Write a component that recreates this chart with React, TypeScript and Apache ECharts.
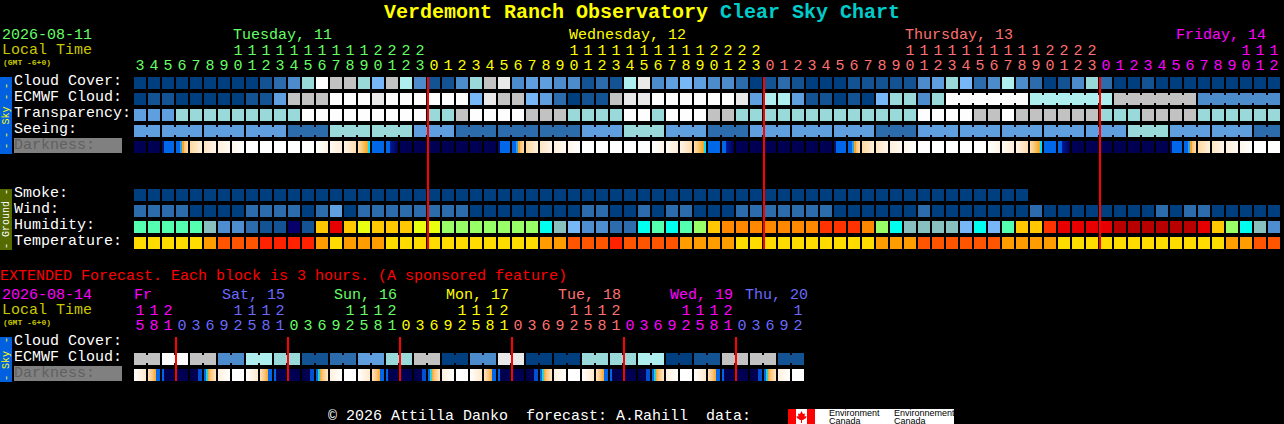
import React, { useEffect, useRef } from "react";
import * as echarts from "echarts";

const MONO = "'Liberation Mono', monospace";

// ---- categories ----
const hoursMain = [3,4,5,6,7,8,9,10,11,12,13,14,15,16,17,18,19,20,21,22,23,
  0,1,2,3,4,5,6,7,8,9,10,11,12,13,14,15,16,17,18,19,20,21,22,23,
  0,1,2,3,4,5,6,7,8,9,10,11,12,13,14,15,16,17,18,19,20,21,22,23,
  0,1,2,3,4,5,6,7,8,9,10,11,12];
const hoursExt = [15,18,21,
  0,3,6,9,12,15,18,21, 0,3,6,9,12,15,18,21, 0,3,6,9,12,15,18,21,
  0,3,6,9,12,15,18,21, 0,3,6,9,12,15,18,21, 0,3,6,9,12];
const rowsMain = ["Cloud Cover:","ECMWF Cloud:","Transparency:","Seeing:","Darkness:","","","Smoke:","Wind:","Humidity:","Temperature:"];
const rowsExt = ["Cloud Cover:","ECMWF Cloud:","Darkness:"];
const midnightsMain = [21,45,69];
const midnightsExt = [3,11,19,27,35,43];

// ---- series values: level codes ----
const cloudCover = [0,0,0,0,0,0,0,0,0,1,2,3,6,10,8,8,6,5,8,7,3,
  1,1,3,6,8,9,3,4,4,3,3,1,2,1,7,9,3,4,5,4,3,3,2,0,
  1,2,1,0,0,0,1,1,1,1,1,3,4,6,5,2,3,7,3,2,0,1,3,6,
  2,0,0,1,0,0,0,0,0,0,0,0,0];
const ecmwfHourly = [0,1,1,0,0,0,0,0,1,1,4,8,8,8,10,10,10,9,10,10,10,
  10,10,10,5,9,8,8,5,4,2,0,1,1,8,9,9,10,10,10,10,10,10,9,4,
  7,7,4,1,1,0,1,0,5,6,6,3,6];
const ecmwfBlockValues = [10,7,8,3];
const ecmwfBlockSpans = [6,6,6,6];
const transparency = [4,4,4,6,6,6,6,6,6,6,6,6,10,10,10,10,10,10,10,10,10,
  6,6,8,10,10,10,10,8,8,8,6,6,6,6,10,10,6,10,10,10,8,8,6,6,
  6,6,6,6,6,6,6,6,6,6,6,10,10,10,10,8,8,10,8,8,8,8,8,8,
  6,6,6,8,8,8,8,6,6,6,6,6,6];
const seeingValues = [4,4,4,4,2,6,6,4,2,2,2,4,6,4,2,4,4,4,2,4,4,4,4,4,6,4,4,2];
const seeingSpans = [2,3,3,3,3,3,3,3,3,3,3,3,3,3,3,3,3,3,3,3,3,3,3,3,3,3,3,2];
const darkness = [0,0,1,2,3,4,5,6,7,7,7,7,7,8,9,10,11,12,13,0,0,
  0,0,0,0,0,1,2,3,4,5,6,7,7,7,7,7,8,9,10,11,12,13,0,0,
  0,0,0,0,0,1,2,3,4,5,6,7,7,7,7,7,8,9,10,11,12,13,0,0,
  0,0,0,0,0,1,2,3,4,5,6,7,7];
const smoke = [0,0,0,0,0,0,0,0,0,0,0,0,0,0,0,0,0,0,0,0,0,
  0,0,0,0,0,0,0,0,0,0,0,0,0,0,0,0,0,0,0,0,0,0,0,0,
  0,0,0,0,0,0,0,0,0,0,0,0,0,0,0,0,0,0,0];
const wind = [2,2,2,2,0,0,0,0,2,2,2,2,0,2,4,0,2,2,2,2,2,
  2,2,2,0,0,0,0,0,0,0,0,2,2,0,0,2,0,2,2,0,0,0,2,2,
  2,2,2,2,2,0,0,0,0,0,0,2,0,0,0,0,0,0,0,2,0,0,0,0,
  0,0,0,0,2,0,2,2,0,0,0,0,0];
const humidity = [7,7,7,7,7,5,3,3,2,1,1,0,1,10,13,10,9,10,10,10,9,
  9,8,8,8,8,8,8,8,6,5,4,3,3,2,2,6,7,6,7,8,10,11,11,11,
  11,11,11,11,12,12,12,11,8,6,5,5,5,5,4,6,4,7,10,10,12,13,13,13,
  13,14,14,14,14,14,14,13,10,8,6,5,3];
const temperature = [0,0,0,0,0,1,2,2,2,3,3,3,3,1,0,1,1,1,0,0,0,
  0,0,0,0,0,0,0,0,1,1,2,2,2,3,2,2,2,2,1,1,1,1,0,0,
  0,0,0,0,0,0,0,0,1,1,1,2,2,2,2,2,2,1,1,1,1,0,0,0,
  0,0,0,0,0,0,0,0,0,1,1,2,2];
const ecmwfExtendedValues = [8,10,8,3,7,6,1,2,4,6,8,0,3,9,0,0,6,6,7,0,1,8,8,1];
const darknessExtended = [14,15,16,
  0,17,18,19,7,14,15,16, 0,17,18,19,7,14,15,16, 0,17,18,19,7,14,15,16,
  0,17,18,19,7,14,15,16, 0,17,18,19,7,14,15,16, 0,17,18,19,7];

const dayNames = ["Tuesday, 11","Wednesday, 12","Thursday, 13","Friday, 14"];
const dayNamesExt = ["Fr","Sat, 15","Sun, 16","Mon, 17","Tue, 18","Wed, 19","Thu, 20"];

// ---- styles ----
const cloudColors = ["#003f7f","#135393","#2c6cac","#4c8ccc","#5f9fdf","#77b7f7","#99d9d9","#aeeeee","#c2c2c2","#e9e9e9","#fdfdfd"];
const humidityColors = ["#08006a","#135393","#2c6cac","#4e8ed0","#77b7f7","#88bfbf","#00ffee","#55ffb0","#99ff66","#e8ff10","#ffc800","#ff8800","#ff3300","#e80000","#b80000"];
const temperatureColors = ["#ffdc00","#ff9d00","#ff5500","#ff2200"];
const NAVY = "#00004f", BLUE = "#0068e8", ORANGE = "#f5a623", WHITE = "#ffffff";
type Stop = [number, string];
const skyStops: Stop[][] = [
  [[0,"#000058"],[1,NAVY]],
  [[0,"#001070"],[0.15,"#001070"],[0.16,BLUE],[1,BLUE]],
  [[0,BLUE],[0.33,BLUE],[0.34,"#30a0e8"],[0.49,"#30a0e8"],[0.5,ORANGE],[0.66,ORANGE],[0.67,"#ffc070"],[1,"#ffdcae"]],
  [[0,"#ffd9a0"],[1,"#fff0dc"]],
  [[0,"#ffe6c4"],[1,"#fff5e8"]],
  [[0,"#fff0dc"],[1,"#fffaf2"]],
  [[0,"#fff6ea"],[1,WHITE]],
  [[0,WHITE],[1,WHITE]],
  [[0,WHITE],[1,"#fff4e6"]],
  [[0,"#fffaf2"],[1,"#ffeed8"]],
  [[0,"#fff4e6"],[1,"#ffdcae"]],
  [[0,"#ffe0b0"],[0.82,ORANGE],[0.83,"#00e0ff"],[1,"#00e0ff"]],
  [[0,BLUE],[1,BLUE]],
  [[0,BLUE],[0.33,BLUE],[0.34,"#001a9a"],[1,NAVY]],
  [[0,WHITE],[1,"#ffe9cc"]],
  [[0,"#ffe6c4"],[0.5,"#ffb860"],[0.66,ORANGE],[0.67,BLUE],[1,BLUE]],
  [[0,BLUE],[0.16,BLUE],[0.17,NAVY],[1,NAVY]],
  [[0,NAVY],[0.66,NAVY],[0.67,"#0050d0"],[1,"#0050d0"]],
  [[0,BLUE],[0.16,BLUE],[0.17,"#30d0d0"],[0.33,"#30d0d0"],[0.34,ORANGE],[0.5,"#ffc070"],[1,"#ffe8cc"]],
  [[0,"#fff0dc"],[1,WHITE]],
];
const skyFills = skyStops.map(
  (s) => new echarts.graphic.LinearGradient(0, 0, 1, 0, s.map(([offset, color]) => ({ offset, color })))
);
const fills: any[] = [...cloudColors, ...humidityColors, ...temperatureColors, ...skyFills];
const HUM = cloudColors.length;
const TMP = HUM + humidityColors.length;
const SKY = TMP + temperatureColors.length;

const dayColors = { tue: "#66ff66", wed: "#ffff00", thu: "#ff7070", fri: "#ff00ff", sat: "#6a6aff", sun: "#66ff66" };
const mainDayColors = [dayColors.tue, dayColors.wed, dayColors.thu, dayColors.fri];
const extDayColors = [dayColors.fri, dayColors.sat, dayColors.sun, dayColors.wed, dayColors.thu, dayColors.fri, dayColors.sat];

const plainCells = (row: number, values: number[], offset = 0) =>
  values.map((v, i) => [i, row, v + offset, 0]);
const spanCells = (row: number, values: number[], spans: number[], start = 0) => {
  const out: number[][] = [];
  let x = start;
  values.forEach((v, k) => {
    for (let j = 0; j < spans[k]; j++) {
      out.push([x, row, v, j < spans[k] - 1 ? 1 : 0]);
      x++;
    }
  });
  return out;
};

const mainCells = [
  ...plainCells(0, cloudCover),
  ...plainCells(1, ecmwfHourly),
  ...spanCells(1, ecmwfBlockValues, ecmwfBlockSpans, ecmwfHourly.length),
  ...plainCells(2, transparency),
  ...spanCells(3, seeingValues, seeingSpans),
  ...plainCells(4, darkness, SKY),
  ...plainCells(7, smoke),
  ...plainCells(8, wind),
  ...plainCells(9, humidity, HUM),
  ...plainCells(10, temperature, TMP),
];
const extCells = [
  ...spanCells(1, ecmwfExtendedValues, ecmwfExtendedValues.map(() => 2)),
  ...plainCells(2, darknessExtended, SKY),
];

const renderCell = (_p: any, api: any) => {
  const c = api.coord([api.value(0), api.value(1)]);
  const bw = api.size([1, 0])[0];
  const bh = api.size([0, 1])[1];
  const x = c[0] - bw / 2 + 1;
  const y = c[1] - bh / 2 + 2;
  const fill = fills[api.value(2)];
  const children: any[] = [
    { type: "rect", shape: { x, y, width: bw - 2, height: bh - 4 }, style: { fill } },
  ];
  if (api.value(3)) {
    children.push({ type: "rect", shape: { x: x + bw - 2, y: y + 2, width: 2, height: bh - 8 }, style: { fill } });
  }
  return { type: "group", children };
};
const renderMidnight = (p: any, api: any) => {
  const c = api.coord([api.value(0), 0]);
  const bw = api.size([1, 0])[0];
  const sys = p.coordSys;
  return {
    type: "rect",
    shape: { x: c[0] - bw / 2, y: sys.y + 2, width: 2, height: sys.height - 4 },
    style: { fill: "#ff0000" },
  };
};

const hourFormatter = (v: string) => {
  const h = Number(v);
  return h >= 10 ? `${Math.floor(h / 10)}\n${h % 10}` : ` \n${h}`;
};
const dayOfCell = (i: number, mids: number[]) => mids.filter((m) => m <= i).length;

const xAxisFor = (gridIndex: number, hours: number[], mids: number[], colors: string[]) => ({
  type: "category",
  gridIndex,
  position: "top",
  data: hours.map(String),
  boundaryGap: true,
  axisLine: { show: false },
  axisTick: { show: false },
  splitLine: { show: false },
  axisLabel: {
    interval: 0,
    hideOverlap: false,
    margin: 1,
    fontFamily: MONO,
    fontSize: 15,
    lineHeight: 15,
    formatter: hourFormatter,
    color: (_v: any, i: number) => colors[dayOfCell(i, mids)],
  },
});
const yAxisFor = (gridIndex: number, rows: string[]) => ({
  type: "category",
  gridIndex,
  inverse: true,
  data: rows,
  axisLine: { show: false },
  axisTick: { show: false },
  splitLine: { show: false },
  axisLabel: {
    interval: 0,
    align: "left",
    margin: 119,
    fontFamily: MONO,
    fontSize: 15,
    color: "#ffffff",
    padding: [0, 0, 3, 0],
    formatter: (v: string) => (v === "Darkness:" ? `{dark|${v}}` : v),
    rich: {
      dark: {
        backgroundColor: "#808080",
        color: "#606060",
        width: 108,
        height: 15,
        fontFamily: MONO,
        fontSize: 15,
      },
    },
  },
});

const txt = (text: string, x: number, y: number, fill: string, size = 15, weight = "normal") => ({
  type: "text",
  x,
  y,
  z: 5,
  style: {
    text,
    fill,
    font: `${weight} ${size}px ${MONO}`,
    verticalAlign: "middle",
    align: "left",
  },
});
const strip = (x: number, y: number, w: number, h: number, fill: string, z = 4) => ({
  type: "rect",
  z,
  shape: { x, y, width: w, height: h },
  style: { fill },
});
const vertical = (text: string, y: number, fg: string, size: number) => ({
  type: "text",
  z: 5,
  x: 6,
  y,
  rotation: Math.PI / 2,
  style: { text, fill: fg, font: `${size}px ${MONO}`, align: "center", verticalAlign: "middle" },
});
const side = (word: string, wordY: number, dashes: number[], y0: number, y1: number, bg: string, fg: string) => [
  strip(0, y0, 12, y1 - y0, bg),
  vertical(word, wordY, fg, 10),
  ...dashes.map((d) => vertical("-", d, fg, 11)),
];
const leaf = [[801.5,411],[803,414],[805,413.5],[804.5,416.5],[806.5,416],[806,418],[803,420],[802,420],[802,423],[801,423],[801,420],[800,420],[797,418],[796.5,416],[798.5,416.5],[798,413.5],[800,414]];
const logoText = (text: string, x: number, y: number) => ({
  type: "text",
  z: 6,
  x,
  y,
  style: { text, fill: "#000", font: "9px 'Liberation Sans'", verticalAlign: "middle" },
});

const graphicElements: any[] = [
  txt("Verdemont Ranch Observatory", 384, 12, "#ffff00", 20, "bold"),
  txt("Clear Sky Chart", 720, 12, "#00cccc", 20, "bold"),
  txt("2026-08-11", 2, 35, dayColors.tue),
  txt("Local Time", 2, 50, "#c8c800"),
  txt("(GMT -6+0)", 3, 62, "#c8c800", 8, "bold"),
  txt(dayNames[0], 233, 35, mainDayColors[0]),
  txt(dayNames[1], 569, 35, mainDayColors[1]),
  txt(dayNames[2], 905, 35, mainDayColors[2]),
  txt(dayNames[3], 1176, 35, mainDayColors[3]),
  ...side("Sky", 115.5, [86, 97, 135, 146], 77, 154, "#0060e0", "#ffff00"),
  ...side("Ground", 219, [192, 246], 189, 250, "#556b00", "#ffffff"),
  txt("EXTENDED Forecast. Each block is 3 hours. (A sponsored feature)", 0, 276, "#ff0000"),
  txt("2026-08-14", 2, 295, dayColors.fri),
  txt("Local Time", 2, 310, "#c8c800"),
  txt("(GMT -6+0)", 3, 322, "#c8c800", 8, "bold"),
  txt(dayNamesExt[0], 134, 295, extDayColors[0]),
  txt(dayNamesExt[1], 222, 295, extDayColors[1]),
  txt(dayNamesExt[2], 334, 295, extDayColors[2]),
  txt(dayNamesExt[3], 446, 295, extDayColors[3]),
  txt(dayNamesExt[4], 558, 295, extDayColors[4]),
  txt(dayNamesExt[5], 670, 295, extDayColors[5]),
  txt(dayNamesExt[6], 745, 295, extDayColors[6]),
  ...side("Sky", 360, [340, 378], 337, 382, "#0060e0", "#ffff00"),
  txt("\u00a9 2026 Attilla Danko  forecast: A.Rahill  data:", 328, 416, "#ffffff"),
  strip(788, 409, 166, 15, "#ffffff"),
  strip(788, 409, 8, 15, "#ff0000", 5),
  strip(807, 409, 8, 15, "#ff0000", 5),
  { type: "polygon", z: 5, shape: { points: leaf }, style: { fill: "#ff0000" } },
  logoText("Environment", 829, 413),
  logoText("Canada", 829, 420.5),
  logoText("Environnement", 894, 413),
  logoText("Canada", 894, 420.5),
];

export default function App() {
  const ref = useRef<HTMLDivElement>(null);
  useEffect(() => {
    document.body.style.margin = "0";
    document.body.style.background = "#000";
    const chart = echarts.init(ref.current!, undefined, { renderer: "svg" });
    chart.setOption({
      animation: false,
      backgroundColor: "#000000",
      tooltip: { show: false },
      grid: [
        { left: 133, top: 75, width: 1148, height: 176 },
        { left: 133, top: 335, width: 672, height: 48 },
      ],
      xAxis: [
        xAxisFor(0, hoursMain, midnightsMain, mainDayColors),
        xAxisFor(1, hoursExt, midnightsExt, extDayColors),
      ],
      yAxis: [yAxisFor(0, rowsMain), yAxisFor(1, rowsExt)],
      graphic: { elements: graphicElements },
      series: [
        { type: "custom", xAxisIndex: 0, yAxisIndex: 0, data: mainCells, renderItem: renderCell, encode: { x: 0, y: 1 }, silent: true, z: 2 },
        { type: "custom", xAxisIndex: 1, yAxisIndex: 1, data: extCells, renderItem: renderCell, encode: { x: 0, y: 1 }, silent: true, z: 2 },
        { type: "custom", xAxisIndex: 0, yAxisIndex: 0, data: midnightsMain.map((m) => [m, 0]), renderItem: renderMidnight, encode: { x: 0, y: 1 }, silent: true, z: 3 },
        { type: "custom", xAxisIndex: 1, yAxisIndex: 1, data: midnightsExt.map((m) => [m, 0]), renderItem: renderMidnight, encode: { x: 0, y: 1 }, silent: true, z: 3 },
      ],
    });
    return () => chart.dispose();
  }, []);
  return <div ref={ref} style={{ width: 1284, height: 424 }} />;
}
